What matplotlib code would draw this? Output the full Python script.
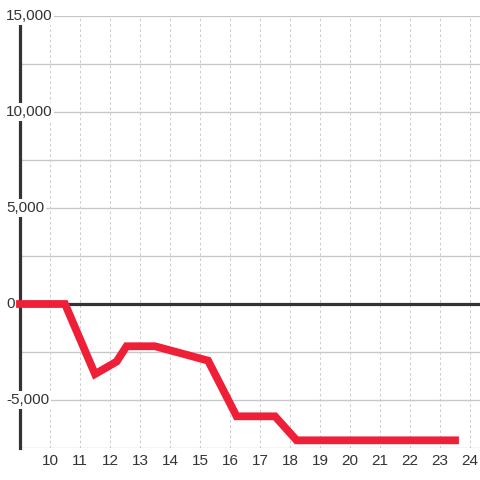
import numpy as np
import matplotlib
matplotlib.use("Agg")
import matplotlib.pyplot as plt
import matplotlib.transforms as mtrans

# hour of day vs cumulative value
hours = [9.0, 10.5, 11.5, 12.22, 12.55, 13.5, 14.33, 15.27, 16.22, 17.5, 18.22, 23.5]
values = [0, 0, -3650, -3000, -2200, -2200, -2550, -2950, -5850, -5850, -7100, -7100]

x_ticks = list(range(10, 25))
y_ticks = [-7500, -5000, -2500, 0, 2500, 5000, 7500, 10000, 12500, 15000]
y_labels = {-5000: "-5,000", 0: "0", 5000: "5,000", 10000: "10,000", 15000: "15,000"}

bg = "white"
txt = "#333333"
plt.rcParams['font.family'] = ['Liberation Sans', 'DejaVu Sans']

fig = plt.figure(figsize=(4.8, 4.8), dpi=100, facecolor=bg)
ax = fig.add_axes([20 / 480, 32 / 480, 460 / 480, 432 / 480], facecolor=bg)

ax.set_xlim(9, 9 + 460 / 30)
ax.set_ylim(-7500, 15000)

# grid
for yv in y_ticks:
    ax.axhline(yv, color="#c8c8c8", lw=1, zorder=1)
for xv in x_ticks:
    ax.axvline(xv, color="#cccccc", lw=0.75, ls=(0, (2.5, 2.5)), zorder=1)

ax.axhline(0, color="#333333", lw=2.3, zorder=2)
ax.plot(hours, values, color="#ee1f36", lw=5.6, solid_joinstyle="miter",
        solid_capstyle="projecting", zorder=3, clip_on=False)

for s in ["top", "right", "bottom"]:
    ax.spines[s].set_visible(False)
ax.spines["left"].set_color("#333333")
ax.spines["left"].set_linewidth(2.3)
ax.spines["left"].set_zorder(2)

ax.set_xticks(x_ticks)
ax.set_xticklabels([str(v) for v in x_ticks])
ax.tick_params(axis="x", length=0, pad=4.5, labelsize=11, labelcolor=txt)
ax.set_yticks([])

# y labels sit over the axis line with a background patch
trans = mtrans.blended_transform_factory(ax.transAxes, ax.transData)
for yv, lab in y_labels.items():
    ax.text(-14 / 460, yv, lab, transform=trans, ha="left", va="center",
            fontsize=11, color=txt, clip_on=False, zorder=2.8,
            bbox=dict(facecolor=bg, edgecolor="none", pad=1.2))

fig.savefig("out.png", dpi=100, facecolor=bg)
